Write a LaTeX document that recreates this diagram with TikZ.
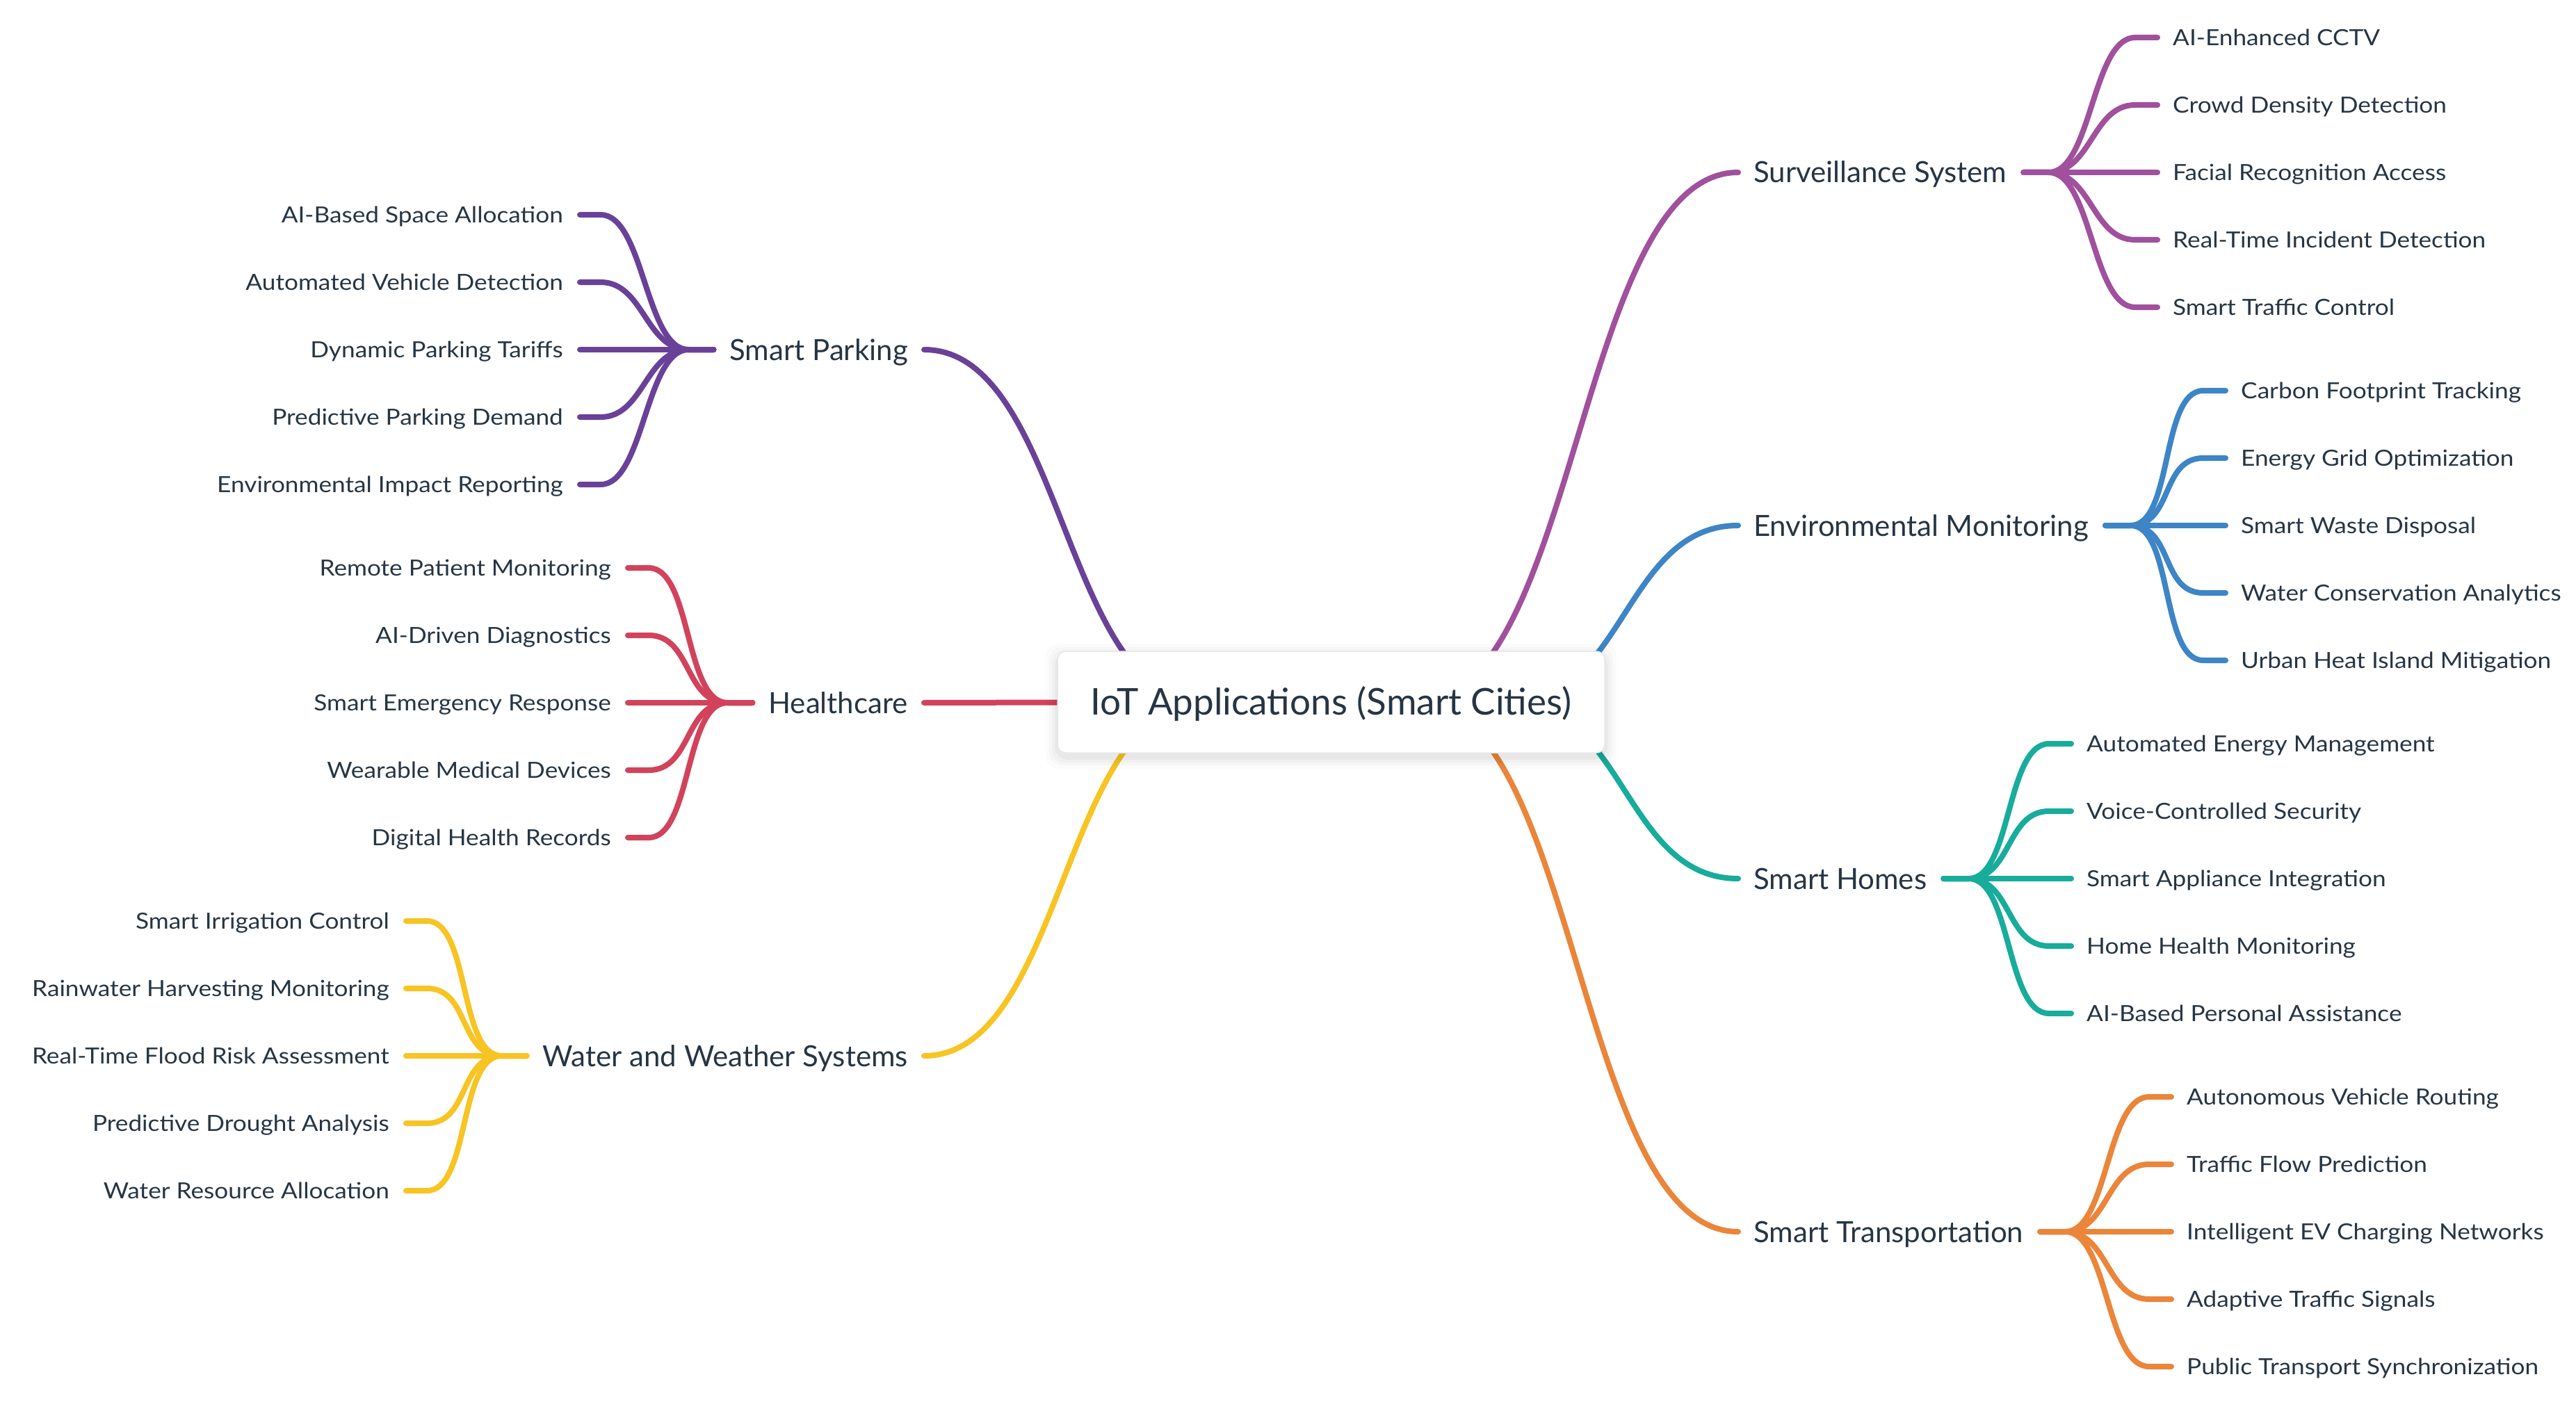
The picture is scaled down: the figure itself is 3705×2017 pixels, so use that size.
\documentclass[tikz,border=0pt]{standalone}
\usepackage{fontspec}
\setmainfont{Lato}
\newfontfamily\leaffont{Lato}[FakeStretch=1.1]
\usetikzlibrary{calc}
\definecolor{txt}{HTML}{263544}
\definecolor{cpark}{HTML}{6A4199}
\definecolor{chealth}{HTML}{D2435B}
\definecolor{cwater}{HTML}{F7C424}
\definecolor{csurv}{HTML}{A0509D}
\definecolor{cenv}{HTML}{3D85C6}
\definecolor{chome}{HTML}{17AC9B}
\definecolor{ctrans}{HTML}{EA853A}
\definecolor{boxline}{HTML}{E6E8EB}
\pgfdeclarelayer{edges}
\pgfdeclarelayer{shadow}
\pgfsetlayers{edges,shadow,main}
\begin{document}
\begin{tikzpicture}[x=1pt,y=-1pt,
  leaf/.style={inner sep=0pt, text height=23pt, text depth=0pt, font=\leaffont\fontsize{32}{38}\selectfont, text=txt},
  cat/.style={inner sep=0pt, text height=30pt, text depth=0pt, font=\fontsize{42}{50}\selectfont, text=txt},
  rootbox/.style={draw=boxline, line width=1.5pt, fill=white, rounded corners=12pt, minimum width=787pt, minimum height=146pt, inner sep=0pt, text height=37pt, text depth=0pt, font=\fontsize{53}{60}\selectfont, text=txt},
  br/.style={line width=8pt, line cap=round, line join=round},
]
\useasboundingbox (0,0) rectangle (3705,2017);

% root
\node[rootbox] (root) at (1914.5,1010) {IoT Applications (Smart Cities)};

% left categories
\node[cat, anchor=east] (sp) at (1306,503) {Smart Parking};
\node[cat, anchor=east] (hc) at (1306,1011) {Healthcare};
\node[cat, anchor=east] (ww) at (1306,1519) {Water and Weather Systems};
% right categories
\node[cat, anchor=west] (ss) at (2522,248) {Surveillance System};
\node[cat, anchor=west] (em) at (2522,756) {Environmental Monitoring};
\node[cat, anchor=west] (sh) at (2522,1264) {Smart Homes};
\node[cat, anchor=west] (st) at (2522,1772) {Smart Transportation};

% leaves: Smart Parking
\node[leaf, anchor=east] (sp1) at (810,309) {AI-Based Space Allocation};
\node[leaf, anchor=east] (sp2) at (810,406) {Automated Vehicle Detection};
\node[leaf, anchor=east] (sp3) at (810,503) {Dynamic Parking Tariffs};
\node[leaf, anchor=east] (sp4) at (810,600) {Predictive Parking Demand};
\node[leaf, anchor=east] (sp5) at (810,697) {Environmental Impact Reporting};
% Healthcare
\node[leaf, anchor=east] (hc1) at (879,817) {Remote Patient Monitoring};
\node[leaf, anchor=east] (hc2) at (879,914) {AI-Driven Diagnostics};
\node[leaf, anchor=east] (hc3) at (879,1011) {Smart Emergency Response};
\node[leaf, anchor=east] (hc4) at (879,1108) {Wearable Medical Devices};
\node[leaf, anchor=east] (hc5) at (879,1205) {Digital Health Records};
% Water
\node[leaf, anchor=east] (ww1) at (560,1325) {Smart Irrigation Control};
\node[leaf, anchor=east] (ww2) at (560,1422) {Rainwater Harvesting Monitoring};
\node[leaf, anchor=east] (ww3) at (560,1519) {Real-Time Flood Risk Assessment};
\node[leaf, anchor=east] (ww4) at (560,1616) {Predictive Drought Analysis};
\node[leaf, anchor=east] (ww5) at (560,1713) {Water Resource Allocation};
% Surveillance
\node[leaf, anchor=west] (ss1) at (3125,54) {AI-Enhanced CCTV};
\node[leaf, anchor=west] (ss2) at (3125,151) {Crowd Density Detection};
\node[leaf, anchor=west] (ss3) at (3125,248) {Facial Recognition Access};
\node[leaf, anchor=west] (ss4) at (3125,345) {Real-Time Incident Detection};
\node[leaf, anchor=west] (ss5) at (3125,442) {Smart Traffic Control};
% Environmental
\node[leaf, anchor=west] (em1) at (3223,562) {Carbon Footprint Tracking};
\node[leaf, anchor=west] (em2) at (3223,659) {Energy Grid Optimization};
\node[leaf, anchor=west] (em3) at (3223,756) {Smart Waste Disposal};
\node[leaf, anchor=west] (em4) at (3223,853) {Water Conservation Analytics};
\node[leaf, anchor=west] (em5) at (3223,950) {Urban Heat Island Mitigation};
% Smart Homes
\node[leaf, anchor=west] (sh1) at (3001,1070) {Automated Energy Management};
\node[leaf, anchor=west] (sh2) at (3001,1167) {Voice-Controlled Security};
\node[leaf, anchor=west] (sh3) at (3001,1264) {Smart Appliance Integration};
\node[leaf, anchor=west] (sh4) at (3001,1361) {Home Health Monitoring};
\node[leaf, anchor=west] (sh5) at (3001,1458) {AI-Based Personal Assistance};
% Transportation
\node[leaf, anchor=west] (st1) at (3145,1578) {Autonomous Vehicle Routing};
\node[leaf, anchor=west] (st2) at (3145,1675) {Traffic Flow Prediction};
\node[leaf, anchor=west] (st3) at (3145,1772) {Intelligent EV Charging Networks};
\node[leaf, anchor=west] (st4) at (3145,1869) {Adaptive Traffic Signals};
\node[leaf, anchor=west] (st5) at (3145,1966) {Public Transport Synchronization};

% shadow of root
\begin{pgfonlayer}{shadow}
\foreach \d/\o in {16/0.015,11/0.02,7/0.025,3/0.03}
  \fill[black, opacity=\o, rounded corners=18pt]
    ([shift={(-\d pt,{-\d pt-6pt})}]root.south west) rectangle ([shift={(\d pt,{\d pt-6pt})}]root.north east);
\end{pgfonlayer}

\begin{pgfonlayer}{edges}
% main branches
\draw[br, cpark] ([xshift=23pt]sp.east) .. controls +(200.5,0) and +(-200.5,0) .. ([xshift=-184.5pt]root.center);
\draw[br, chealth] ([xshift=23pt]hc.east) -- ([xshift=-184.5pt]root.center);
\draw[br, cwater] ([xshift=23pt]ww.east) .. controls +(200.5,0) and +(-200.5,0) .. ([xshift=-184.5pt]root.center);
\draw[br, csurv] ([xshift=-22pt]ss.west) .. controls +(-231,0) and +(231,0) .. ([xshift=123.5pt]root.center);
\draw[br, cenv] ([xshift=-22pt]em.west) .. controls +(-163.5,0) and +(163.5,0) .. ([xshift=258.5pt]root.center);
\draw[br, chome] ([xshift=-22pt]sh.west) .. controls +(-163.5,0) and +(163.5,0) .. ([xshift=258.5pt]root.center);
\draw[br, ctrans] ([xshift=-22pt]st.west) .. controls +(-231,0) and +(231,0) .. ([xshift=123.5pt]root.center);

% left sub-branches
\foreach \c/\col in {sp/cpark, hc/chealth, ww/cwater}{
  \coordinate (\c-s) at ([xshift=-23pt]\c.west);
  \coordinate (\c-j) at ([xshift=-59pt]\c.west);
  \foreach \i in {1,...,5}
    \draw[br, \col] ([xshift=24pt]\c\i.east) -- ++(30,0) .. controls +(62,0) and +(-62,0) .. (\c-j) -- (\c-s);
}
% right sub-branches
\foreach \c/\col in {ss/csurv, em/cenv, sh/chome, st/ctrans}{
  \coordinate (\c-s) at ([xshift=24pt]\c.east);
  \coordinate (\c-j) at ([xshift=60pt]\c.east);
  \foreach \i in {1,...,5}
    \draw[br, \col] (\c-s) -- (\c-j) .. controls +(62,0) and +(-62,0) .. ([xshift=-54pt]\c\i.west) -- ([xshift=-22pt]\c\i.west);
}
\end{pgfonlayer}
\end{tikzpicture}
\end{document}
